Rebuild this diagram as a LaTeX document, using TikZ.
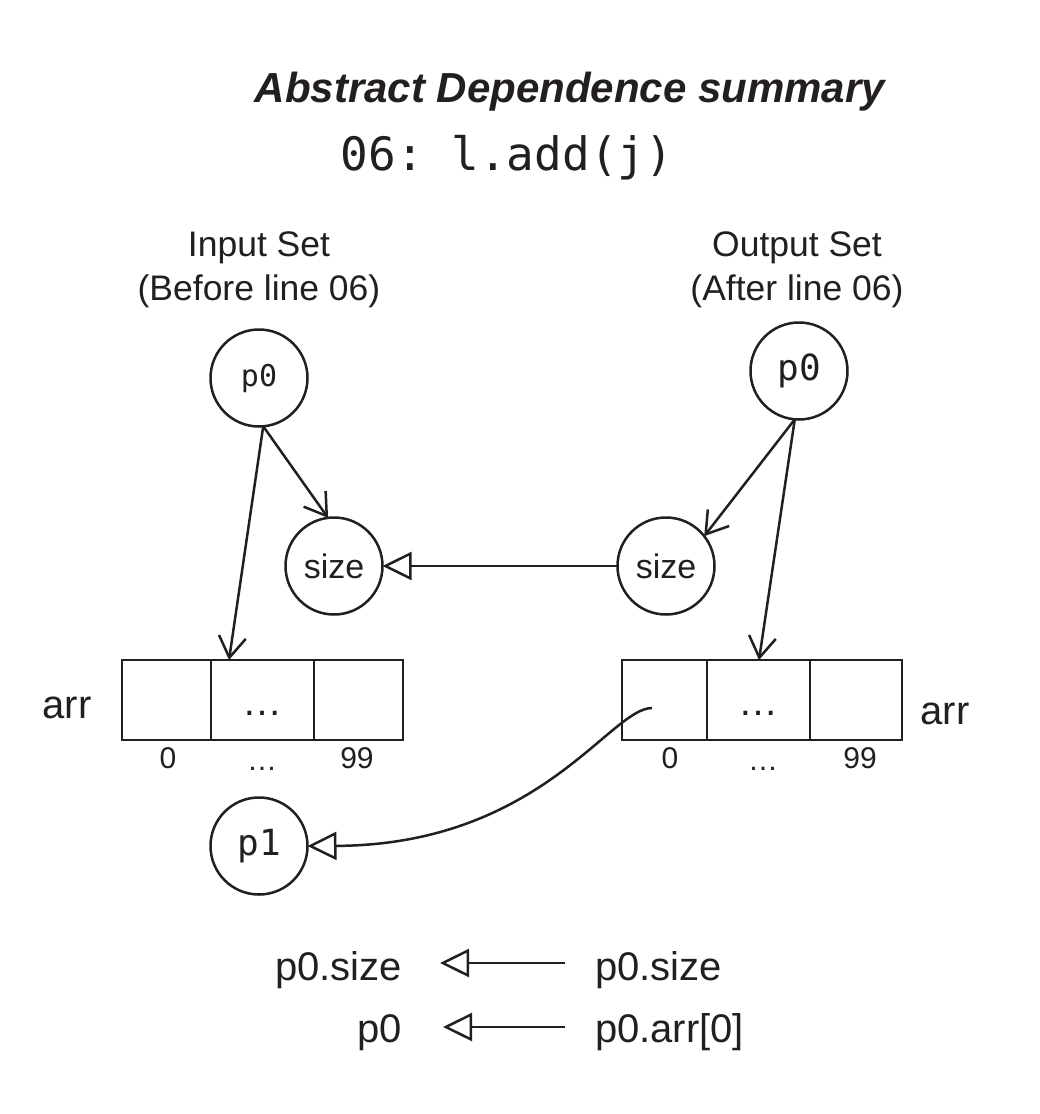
\documentclass[tikz,border=0pt]{standalone}
\usepackage{fontspec}
\setmainfont{Liberation Sans}
\setmonofont{DejaVu Sans Mono}
\usetikzlibrary{arrows.meta,calc}
\definecolor{ink}{RGB}{35,31,32}
\begin{document}
\begin{tikzpicture}[x=1pt,y=-1pt,
  every node/.style={inner sep=0pt,outer sep=0pt,text=ink},
  circ/.style={draw=ink,line width=2.5pt,circle,minimum size=97pt},
  cell/.style={draw=ink,line width=2.5pt,rectangle,minimum height=80pt},
  conn/.style={draw=ink,line width=2.5pt},
  barb/.style={conn,-{Straight Barb[length=21pt,width=27pt,line width=2.5pt]}},
  otri/.style={conn,-{Triangle[open,length=29pt,width=28pt,line width=2.5pt]}},
  ttl/.style={font=\fontsize{42}{48}\selectfont\bfseries\itshape},
  code/.style={font=\fontsize{46}{52}\ttfamily},
  lbl/.style={font=\fontsize{35.5}{40}\selectfont},
  szl/.style={font=\fontsize{34}{40}\selectfont},
  big/.style={font=\fontsize{40}{46}\selectfont},
  idx/.style={font=\fontsize{30}{36}\selectfont},
  smono/.style={font=\fontsize{30}{36}\ttfamily},
  bmono/.style={font=\fontsize{36}{42}\ttfamily}
]
\useasboundingbox[fill=white] (0,0) rectangle (1040,1114);

% titles
\node[ttl,anchor=base] (title) at (570,102) {Abstract Dependence summary};
\node[code,anchor=base] (code) at (507,170) {06: l.add(j)};

\node[lbl,anchor=base] (inA) at (259,256) {Input Set};
\node[lbl,anchor=base] (inB) at (259,300) {(Before line 06)};
\node[lbl,anchor=base] (outA) at (797,256) {Output Set};
\node[lbl,anchor=base] (outB) at (797,300) {(After line 06)};

% circles
\node[circ,smono] (lp0) at (259,378) {p0};
\node[circ,bmono] (rp0) at (799,371) {p0};
\node[circ,szl] (ls) at (334,566) {size};
\node[circ,szl] (rs) at (666,566) {size};
\node[circ,bmono] (p1) at (259,846) {p1};

% left array
\node[cell,minimum width=89pt] (lc1) at (166.5,700) {};
\node[cell,minimum width=103pt] (lc2) at (262.5,700) {};
\node[cell,minimum width=89pt] (lc3) at (358.5,700) {};
\node[big,anchor=base] (ldots) at (262.5,715) {…};
\node[big,anchor=base] (larr) at (67,718) {arr};
\node[idx,anchor=base] (li0) at (168,768) {0};
\node[idx,anchor=base] (li1) at (262,770) {…};
\node[idx,anchor=base] (li2) at (357,768) {99};

% right array
\node[cell,minimum width=85pt] (rc1) at (664.5,700) {};
\node[cell,minimum width=103pt] (rc2) at (758.5,700) {};
\node[cell,minimum width=92pt] (rc3) at (856,700) {};
\node[big,anchor=base] (rdots) at (758.5,715) {…};
\node[big,anchor=base] (rarr) at (945,724) {arr};
\node[idx,anchor=base] (ri0) at (670,768) {0};
\node[idx,anchor=base] (ri1) at (763,770) {…};
\node[idx,anchor=base] (ri2) at (860,768) {99};

% connectors
\draw[barb] (lp0.-85) -- (ls.97);
\draw[barb] (lp0.-85) -- ([xshift=18pt]lc2.north west);
\draw[barb] (rp0.-95) -- (rs.38);
\draw[barb] (rp0.-95) -- ([xshift=52pt]rc2.north west);
\draw[otri] (rs.west) -- (ls.east);
\coordinate (cs) at (652,708);
\draw[otri] (cs) .. controls (610,708) and (540,845) .. (p1.east);

% legend
\node[big,anchor=base east] (l1) at (402,980) {p0.size};
\node[big,anchor=base west] (r1) at (595,980) {p0.size};
\node[big,anchor=base east] (l2) at (402,1042) {p0};
\node[big,anchor=base west] (r2) at (595,1042) {p0.arr[0]};
\draw[otri,shorten <=30pt,shorten >=38pt] (r1.west|-0,963) -- (l1.east|-0,963);
\draw[otri,shorten <=30pt,shorten >=41pt] (r2.west|-0,1027) -- (l2.east|-0,1027);
\end{tikzpicture}
\end{document}
